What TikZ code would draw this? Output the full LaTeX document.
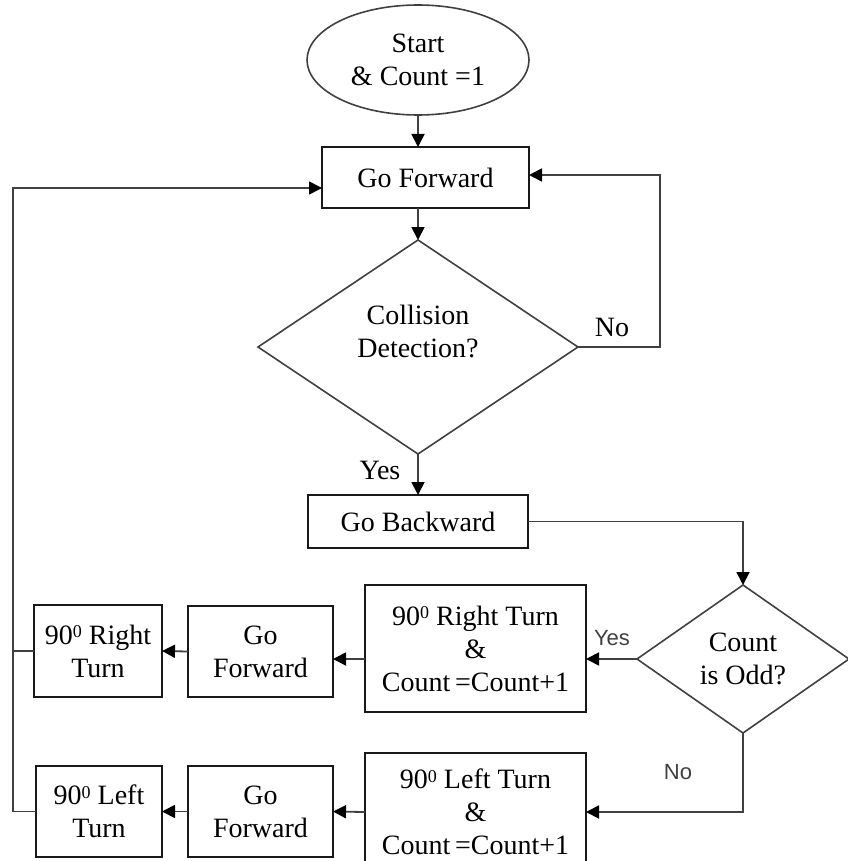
\documentclass[tikz,border=0pt]{standalone}
\usepackage{fontspec}
\setmainfont{Liberation Serif}
\newfontfamily\labelsans{Liberation Sans}
\usetikzlibrary{shapes.geometric,arrows.meta}
% small raised degree-like zero
\newcommand{\degz}{\raisebox{0.5ex}{\fontsize{18}{18}\selectfont 0}}

\begin{document}
\begin{tikzpicture}[x=1pt,y=-1pt,
  every node/.style={font=\fontsize{28}{33}\selectfont, align=center,
                     inner sep=0pt, outer sep=0pt, text=black},
  box/.style={draw=black!90, line width=2pt, fill=white, rectangle},
  oval/.style={draw=black!75, line width=1.6pt, ellipse},
  decision/.style={draw=black!75, line width=1.6pt, diamond, aspect=1.5},
  flow/.style={draw=black!75, line width=1.8pt},
  arr/.style={flow, -{Triangle[length=13pt,width=13pt,fill=black,color=black]}},
  lab/.style={font=\fontsize{28}{33}\selectfont},
  sanslab/.style={font=\labelsans\fontsize{22}{26}\selectfont, text=black!75},
]
\useasboundingbox (0,0) rectangle (847,861);

% main column
\node[oval, minimum width=222, minimum height=110] (start) at (418,60)
  {Start\\\& Count =1};
\node[box, minimum width=207, minimum height=61] (gf) at (425.5,177.5) {Go Forward};
\node[decision, minimum width=320, minimum height=214] (d1) at (418,347)
  {\phantom{X}};
\node at ([yshift=16pt]d1.center) {Collision\\Detection?};
\node[box, minimum width=220, minimum height=53] (gb) at (418,521.5) {Go Backward};

% parity test
\node[decision, minimum width=212, minimum height=148] (d2) at (743,659)
  {Count\\is Odd?};

% right-turn branch
\node[box, minimum width=221, minimum height=127] (bigR) at (475.5,648.5)
  {90\degz{} Right Turn\\\&\\Count\,=Count+1};
\node[box, minimum width=145, minimum height=91] (gfR) at (260.5,651.5) {Go\\Forward};
\node[box, minimum width=128, minimum height=92] (rt) at (98,651) {90\degz{} Right\\Turn};

% left-turn branch
\node[box, minimum width=221, minimum height=118] (bigL) at (475.5,812)
  {90\degz{} Left Turn\\\&\\Count\,=Count+1};
\node[box, minimum width=145, minimum height=91] (gfL) at (260.5,811.5) {Go\\Forward};
\node[box, minimum width=126, minimum height=91] (lt) at (99,811.5) {90\degz{} Left\\Turn};

% branch labels
\node[lab] (yes1) at (380,470) {Yes};
\node[lab] (no1) at (612,327) {No};
\node[sanslab] (yes2) at (612,638) {Yes};
\node[sanslab] (no2) at (678,772) {No};

% bend points
\coordinate (nobend) at (660,175);
\coordinate (backbend) at (13,188);

% connectors
\draw[arr] (start.south) -- (start.south |- gf.north);
\draw[arr] (start.south |- gf.south) -- (d1.north);
\draw[arr] (d1.south) -- (gb.north);
\draw[arr] (d1.east) -| (nobend) -- (nobend -| gf.east);
\draw[arr] (gb.east) -| (d2.north);
\draw[arr] (d2.west) -- (d2.west -| bigR.east);
\draw[arr] (bigR.west |- d2.west) -- (gfR.east |- d2.west);
\draw[arr] (gfR.west) -- (rt.east);
\draw[arr] (d2.south) |- (bigL.east);
\draw[arr] (bigL.west) -- (gfL.east);
\draw[arr] (gfL.west) -- (lt.east);
\draw[arr] (lt.west) -| (backbend) -- (backbend -| gf.west);
\draw[flow] (rt.west) -- (rt.west -| backbend);
\end{tikzpicture}
\end{document}
